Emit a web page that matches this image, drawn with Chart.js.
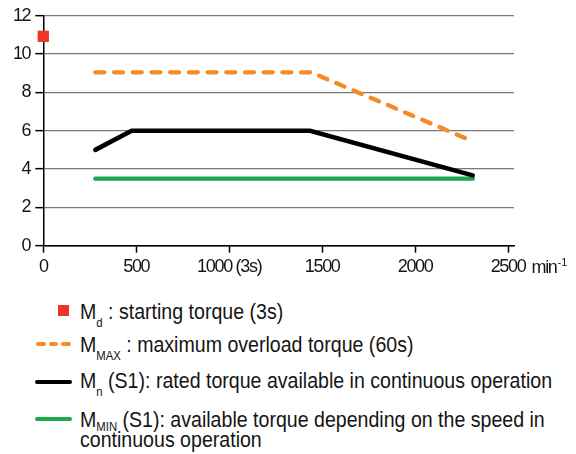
<!DOCTYPE html>
<html>
<head>
<meta charset="utf-8">
<script src="https://cdn.jsdelivr.net/npm/chart.js@4.4.1/dist/chart.umd.min.js"></script>
<style>
  html, body { margin: 0; padding: 0; background: #fff; }
  #wrap { position: relative; width: 576px; height: 454px; overflow: hidden;
          font-family: 'Liberation Sans', Arial, sans-serif; color: #151515; }
  #c { position: absolute; left: 0; top: 0; }
  .row { position: absolute; left: 80px; font-size: 22.5px; line-height: 22.5px; white-space: nowrap;
         transform: scaleX(0.87); transform-origin: 0 0; }
  .row sub { font-size: 13px; vertical-align: baseline; position: relative; top: 8px; }
  .row sub.hi { top: 4px; }
  .sw { position: absolute; }
</style>
</head>
<body>
<div id="wrap">
  <canvas id="c" width="576" height="280"></canvas>
  <div class="sw" style="left:58px;top:305px;width:11px;height:11px;background:#ee3528"></div>
  <div class="sw" style="left:36px;top:342.2px;width:9.5px;height:4.3px;border-radius:2px;background:#f58b27"></div>
  <div class="sw" style="left:48.5px;top:342.2px;width:9.5px;height:4.3px;border-radius:2px;background:#f58b27"></div>
  <div class="sw" style="left:61px;top:342.2px;width:9.5px;height:4.3px;border-radius:2px;background:#f58b27"></div>
  <div class="sw" style="left:35px;top:379.5px;width:37px;height:4.5px;border-radius:2px;background:#000"></div>
  <div class="sw" style="left:35px;top:416.8px;width:37px;height:4.5px;border-radius:2px;background:#1ba84c"></div>
  <div class="row" style="top:301px">M<sub>d</sub> : starting torque (3s)</div>
  <div class="row" style="top:334.3px">M<sub>MAX</sub> : maximum overload torque (60s)</div>
  <div class="row" style="top:370px">M<sub>n</sub> (S1): rated torque available in continuous operation</div>
  <div class="row" style="top:408.7px">M<sub class="hi">MIN</sub> (S1): available torque depending on the speed in</div>
  <div class="row" style="top:429px">continuous operation</div>
</div>
<script>
// ---- data ----
const xTickValues = [0, 500, 1000, 1500, 2000, 2500];
const xTickLabels = ['0', '500', '1000 (3s)', '1500', '2000', '2500'];
const xUnit = 'min';
const xUnitExp = '-1';
const yTickValues = [0, 2, 4, 6, 8, 10, 12];

const mdSpeed = [0];
const mdTorque = [10.93];

const mmaxSpeed = [280, 1440, 2310];
const mmaxTorque = [9.05, 9.05, 5.45];

const mnSpeed = [280, 475, 1435, 2310];
const mnTorque = [5.0, 6.0, 6.0, 3.67];

const mminSpeed = [280, 2310];
const mminTorque = [3.5, 3.5];

const toPts = (xs, ys) => xs.map((x, i) => ({ x: x, y: ys[i] }));

const FONT = "'Liberation Sans', Arial, sans-serif";
const TXT = '#151515';
const SPACING = '-1.3px';

const narrowPlugin = {
  id: 'narrowText',
  beforeUpdate(chart) { chart.ctx.letterSpacing = SPACING; },
  beforeDraw(chart) { chart.ctx.letterSpacing = SPACING; }
};

const unitPlugin = {
  id: 'unitLabel',
  afterDraw(chart) {
    const xs = chart.scales.x;
    const ctx = chart.ctx;
    ctx.save();
    ctx.letterSpacing = SPACING;
    ctx.fillStyle = TXT;
    ctx.font = '18px ' + FONT;
    ctx.textBaseline = 'alphabetic';
    const last = xTickValues[xTickValues.length - 1];
    const px = xs.getPixelForValue(last);
    const w = ctx.measureText(xTickLabels[xTickLabels.length - 1]).width;
    const base = xs.top + 7 + 4 + 16;
    const x0 = px + w / 2 + 6;
    ctx.textAlign = 'left';
    ctx.fillText(xUnit, x0, base);
    const wm = ctx.measureText(xUnit).width;
    ctx.font = '11px ' + FONT;
    ctx.letterSpacing = '0px';
    ctx.fillText(xUnitExp, x0 + wm + 1, base - 7);
    ctx.restore();
  }
};

const chart = new Chart(document.getElementById('c'), {
  type: 'scatter',
  data: {
    datasets: [
      { label: 'Md', data: toPts(mdSpeed, mdTorque), pointStyle: 'rect', pointRadius: 8,
        backgroundColor: '#ee3528', borderWidth: 0, showLine: false, clip: false, order: 0 },
      { label: 'Mmax', data: toPts(mmaxSpeed, mmaxTorque), showLine: true, borderColor: '#f58b27',
        borderWidth: 4.3, borderDash: [9, 9.7], borderCapStyle: 'round', pointRadius: 0, clip: false, order: 1 },
      { label: 'Mn', data: toPts(mnSpeed, mnTorque), showLine: true, borderColor: '#000',
        borderWidth: 4.6, borderCapStyle: 'round', borderJoinStyle: 'miter', pointRadius: 0, clip: false, order: 2 },
      { label: 'Mmin', data: toPts(mminSpeed, mminTorque), showLine: true, borderColor: '#1ba84c',
        borderWidth: 4.4, borderCapStyle: 'round', pointRadius: 0, clip: false, order: 3 }
    ]
  },
  options: {
    responsive: false,
    animation: false,
    layout: { padding: { left: 0, right: 46, top: 8, bottom: 0 } },
    plugins: { legend: { display: false }, tooltip: { enabled: false } },
    scales: {
      x: {
        type: 'linear', min: 0, max: 2532,
        afterBuildTicks: s => { s.ticks = xTickValues.map(v => ({ value: v })); },
        ticks: {
          autoSkip: false, maxRotation: 0, padding: 4, color: TXT,
          font: { family: FONT, size: 18 },
          callback: (v) => { const i = xTickValues.indexOf(v); return i >= 0 ? xTickLabels[i] : ''; }
        },
        grid: { drawOnChartArea: false, drawTicks: true, tickLength: 7, tickColor: '#000', tickWidth: 1.5 },
        border: { color: '#000', width: 1.5 }
      },
      y: {
        type: 'linear', min: 0, max: 12,
        afterBuildTicks: s => { s.ticks = yTickValues.map(v => ({ value: v })); },
        ticks: { padding: 5, color: TXT, font: { family: FONT, size: 18 } },
        grid: { color: c => (c.tick && c.tick.value === 0 ? '#000' : '#7a7a7a'), lineWidth: 1.3,
                tickLength: 8, tickColor: '#000', tickWidth: 1.5 },
        border: { color: '#000', width: 1.5 }
      }
    }
  },
  plugins: [narrowPlugin, unitPlugin]
});

// align the plot area with the reference frame
const target = { left: 43.3, top: 16.7, right: 514, bottom: 245.7 };
for (let k = 0; k < 4; k++) {
  const a = chart.chartArea;
  const p = chart.options.layout.padding;
  p.left += target.left - a.left;
  p.top += target.top - a.top;
  p.right += a.right - target.right;
  p.bottom += a.bottom - target.bottom;
  chart.update();
}
</script>
</body>
</html>
